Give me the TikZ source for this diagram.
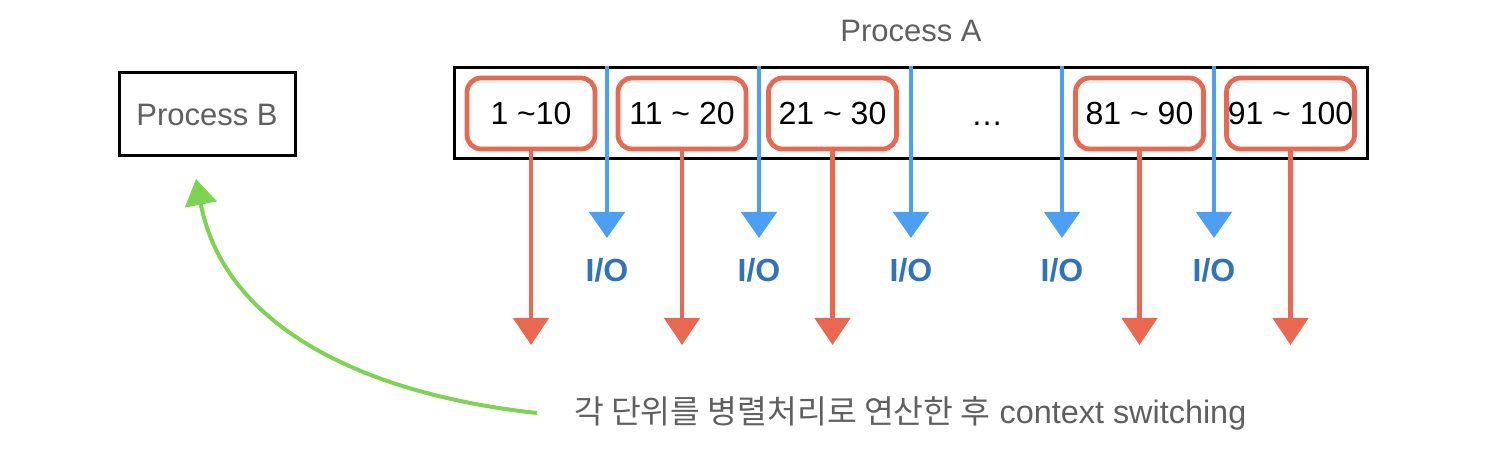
\documentclass[tikz,border=0pt]{standalone}
\usepackage{fontspec}
\setmainfont{Liberation Sans}
\newfontfamily\krfont{Noto Sans CJK KR}
\usetikzlibrary{arrows.meta}
\definecolor{sred}{HTML}{E9684F}
\definecolor{sblue}{HTML}{4BA0F5}
\definecolor{iotext}{HTML}{2F74BA}
\definecolor{sgreen}{HTML}{7CD450}
\definecolor{gtext}{HTML}{5F5F5F}
\begin{document}
\begin{tikzpicture}[x=0.5pt,y=-0.5pt,
  procbox/.style={draw=black, line width=1.5pt, inner sep=0pt},
  rbox/.style={draw=sred, line width=2.4pt, rounded corners=7pt, minimum width=64pt, minimum height=35.5pt, inner sep=0pt, font=\fontsize{16}{19}\selectfont},
  redarrow/.style={draw=sred, line width=2.4pt, -{Triangle[width=17.5pt,length=13.5pt]}},
  bluearrow/.style={draw=sblue, line width=2.4pt, -{Triangle[width=17.5pt,length=13pt]}},
  greenarrow/.style={draw=sgreen, line width=2pt, -{Triangle[width=16pt,length=13pt]}},
  iolabel/.style={text=iotext, font=\fontsize{16}{19}\selectfont\bfseries},
  graylabel/.style={text=gtext, font=\fontsize{15.5}{19}\selectfont}
]
\useasboundingbox (0,0) rectangle (1510,454);
% Process B
\node[procbox, minimum width=88pt, minimum height=41.5pt, graylabel] (PB) at (207,114.5) {Process B};
% Process A
\node[graylabel] (PAlabel) at (911,31) {Process A};
\node[procbox, minimum width=456.5pt, minimum height=45.5pt] (PA) at (910.5,113.5) {};
% red boxes
\node[rbox] (r1) at (531,113.5) {1 \char`\~10};
\node[rbox] (r2) at (682,113.5) {11 \char`\~{} 20};
\node[rbox] (r3) at (832.5,113.5) {21 \char`\~{} 30};
\node[font=\fontsize{16}{19}\selectfont] (dots) at (987,124) {\ldots};
\node[rbox] (r5) at (1139.5,113.5) {81 \char`\~{} 90};
\node[rbox] (r6) at (1290.5,113.5) {91 \char`\~{} 100};
% red arrows
\foreach \n/\x in {1/531,2/682,3/832.5,5/1139.5,6/1290.5}{
  \coordinate (e\n) at (\x,345);
  \draw[redarrow] (r\n.south) -- (e\n);
}
% blue arrows and I/O labels
\foreach \n/\x in {1/607,2/759,3/911,4/1062,5/1214}{
  \coordinate (bs\n) at (\x,66);
  \coordinate (be\n) at (\x,238);
  \draw[bluearrow] (bs\n) -- (be\n);
  \node[iolabel] (io\n) at (\x,270) {I/O};
}
% bottom text
\node[graylabel, anchor=west, font=\fontsize{16.2}{19}\selectfont] (txt) at (567,413) {{\krfont 각 단위를 병렬처리로 연산한 후} context switching};
% green arrow
\coordinate (gs) at (537,413);
\coordinate (gt) at (196,179);
\draw[greenarrow] (gs) .. controls (370,395) and (225,330) .. (gt);
\end{tikzpicture}
\end{document}
